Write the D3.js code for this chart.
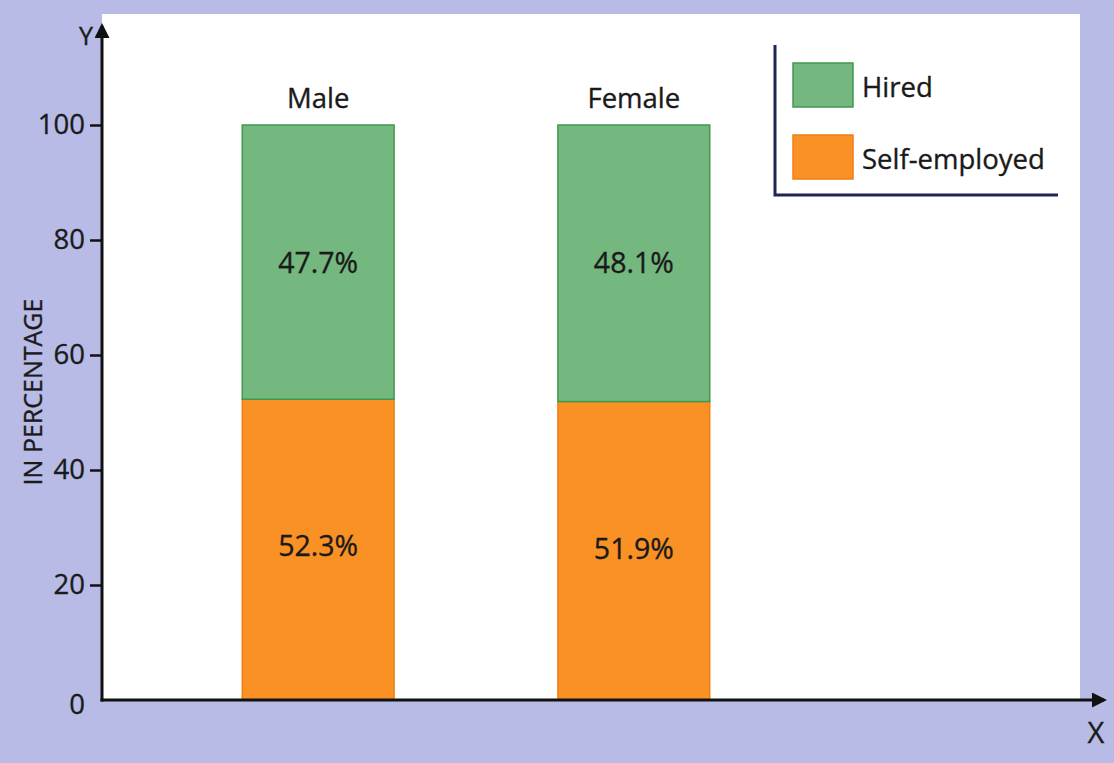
<!DOCTYPE html>
<html>
<head>
<meta charset="utf-8">
<script src="https://cdn.jsdelivr.net/npm/d3@7"></script>
<style>
  html, body { margin: 0; padding: 0; background: #b7bbe6; }
  svg { display: block; }
  text { font-family: "Open Sans", "Noto Sans", sans-serif; fill: #1a1a1a; stroke: #1a1a1a; stroke-width: 0.35px; }
</style>
</head>
<body>
<svg id="chart" width="1114" height="763"></svg>
<script>
// Employment status by sex (percent of workers)
const categories = ["Male", "Female"];
const series = ["Self-employed", "Hired"];
const selfEmployed = [52.3, 51.9];
const hired = [47.7, 48.1];
const yTicks = [0, 20, 40, 60, 80, 100];
const colors = { "Hired": "#74b77f", "Self-employed": "#fa9124" };
const strokes = { "Hired": "#3f9a4e", "Self-employed": "#f07f14" };

const svg = d3.select("#chart");
const W = 1114, H = 763;
const FS = 27.5;

// paper area
svg.append("rect").attr("width", W).attr("height", H).attr("fill", "#b7bbe6");
svg.append("rect").attr("x", 102).attr("y", 14).attr("width", 978).attr("height", 686).attr("fill", "#ffffff");

const x0 = 102, yBase = 700;
const y = d3.scaleLinear().domain([0, 100]).range([yBase, 125]);
const x = d3.scaleBand().domain(categories).range([116, 836]).paddingInner(0.519).paddingOuter(0.4);

// stacked data
const rows = categories.map((c, i) => ({ cat: c, "Self-employed": selfEmployed[i], "Hired": hired[i] }));
const stacked = d3.stack().keys(series)(rows);

const g = svg.append("g");
stacked.forEach(layer => {
  g.selectAll(null).data(layer).join("rect")
    .attr("x", d => x(d.data.cat))
    .attr("y", d => y(d[1]))
    .attr("width", x.bandwidth())
    .attr("height", d => y(d[0]) - y(d[1]))
    .attr("fill", colors[layer.key])
    .attr("stroke", strokes[layer.key])
    .attr("stroke-width", 1.5);
  g.selectAll(null).data(layer).join("text")
    .attr("x", d => x(d.data.cat) + x.bandwidth() / 2)
    .attr("y", d => layer.key === "Hired" ? y(d[1]) + 148 : y(d[1]) + 157)
    .attr("text-anchor", "middle")
    .attr("font-size", FS + 1)
    .text(d => d3.format(".1f")(d[1] - d[0]) + "%");
});

// category labels above bars
g.selectAll(null).data(categories).join("text")
  .attr("x", d => x(d) + x.bandwidth() / 2)
  .attr("y", y(100) - 17)
  .attr("text-anchor", "middle")
  .attr("font-size", FS)
  .text(d => d);

// y axis with ticks
const yAxis = d3.axisLeft(y).tickValues(yTicks).tickSize(12).tickPadding(5).tickFormat(d3.format("d"));
const ya = svg.append("g").attr("transform", `translate(${x0},0)`).call(yAxis);
ya.select(".domain").remove();
ya.selectAll(".tick line").attr("stroke", "#111").attr("stroke-width", 2.5);
ya.selectAll(".tick text").attr("font-size", FS).attr("fill", "#1a1a1a")
  .attr("font-family", "'Open Sans', 'Noto Sans', sans-serif");
ya.selectAll(".tick").filter(d => d === 0).select("line").remove();
ya.selectAll(".tick").filter(d => d === 0).select("text").attr("dy", "0.5em");

// axis lines with arrowheads
svg.append("defs").append("marker")
  .attr("id", "arrow").attr("viewBox", "0 0 10 10").attr("refX", 8).attr("refY", 5)
  .attr("markerWidth", 5).attr("markerHeight", 5).attr("orient", "auto-start-reverse")
  .append("path").attr("d", "M0,0 L10,5 L0,10 z").attr("fill", "#111");

svg.append("line").attr("x1", x0).attr("y1", yBase + 1.5).attr("x2", x0).attr("y2", 26)
  .attr("stroke", "#111").attr("stroke-width", 3).attr("marker-end", "url(#arrow)");
svg.append("line").attr("x1", x0 - 1.5).attr("y1", yBase).attr("x2", 1104).attr("y2", yBase)
  .attr("stroke", "#111").attr("stroke-width", 3).attr("marker-end", "url(#arrow)");

svg.append("text").attr("x", 86).attr("y", 45).attr("text-anchor", "middle").attr("font-size", 25).text("Y");
svg.append("text").attr("x", 1096).attr("y", 743).attr("text-anchor", "middle").attr("font-size", 29).text("X");

// y axis title
svg.append("text")
  .attr("transform", "translate(42,392) rotate(-90)")
  .attr("text-anchor", "middle")
  .attr("font-size", 25)
  .text("IN PERCENTAGE");

// legend
const leg = svg.append("g");
leg.append("path").attr("d", "M775,45 V195 H1058").attr("fill", "none")
  .attr("stroke", "#1d2757").attr("stroke-width", 3);
const legendItems = ["Hired", "Self-employed"];
leg.selectAll(null).data(legendItems).join("rect")
  .attr("x", 793).attr("y", (d, i) => 63 + i * 72)
  .attr("width", 60).attr("height", 44)
  .attr("fill", d => colors[d]).attr("stroke", d => strokes[d]).attr("stroke-width", 1.5);
leg.selectAll(null).data(legendItems).join("text")
  .attr("x", 862).attr("y", (d, i) => 97 + i * 72)
  .attr("font-size", FS)
  .text(d => d);
</script>
</body>
</html>
